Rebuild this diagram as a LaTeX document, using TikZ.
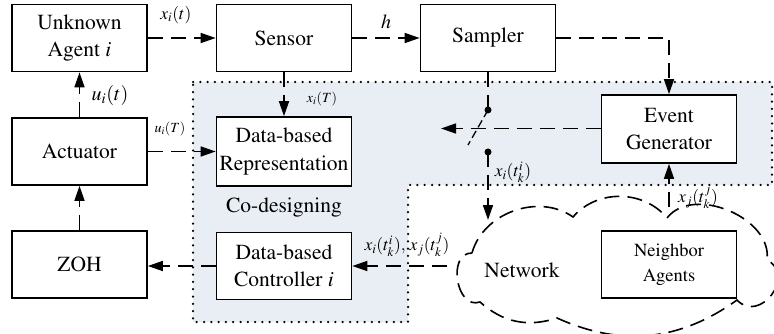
\documentclass[tikz,border=0pt]{standalone}
\usepackage[T1]{fontenc}
\usepackage{mathptmx}
\newcommand\tnr{\rmfamily}
\usetikzlibrary{arrows.meta}
\definecolor{codesign}{HTML}{E9EDF4}
\tikzset{
  blk/.style={draw, line width=1.7pt, fill=white, minimum width=135pt, minimum height=67pt, align=center, inner sep=2pt, font=\tnr\fontsize{21.5}{27.5}\selectfont},
  dasharrow/.style={line width=1.6pt, dash pattern=on 15pt off 8pt, -{Triangle[length=15pt,width=10pt]}},
  cloudline/.style={line width=1.6pt, dash pattern=on 15pt off 8pt},
  dotborder/.style={line width=2.5pt, line cap=round, dash pattern=on 0pt off 7.3pt},
  biglbl/.style={font=\tnr\fontsize{20}{22}\selectfont, inner sep=0pt},
  midlbl/.style={font=\tnr\fontsize{17.5}{20}\selectfont, inner sep=0pt},
  smalllbl/.style={font=\tnr\fontsize{14}{16}\selectfont, inner sep=0pt},
  plaintext/.style={font=\tnr\fontsize{21.5}{27.5}\selectfont, inner sep=0pt},
  contact/.style={circle, fill=black, inner sep=0pt, minimum size=7pt},
}
\begin{document}
\begin{tikzpicture}[x=1pt,y=-1pt]
\useasboundingbox (0,0) rectangle (774,334);
% shaded co-design region
\fill[codesign] (193,82) -- (772,82) -- (772,185) -- (408,185) -- (408,322) -- (193,322) -- cycle;
\draw[dotborder] (193,82) -- (772,82) -- (772,185) -- (408,185) -- (408,322) -- (193,322) -- cycle;
% cloud (network)
\coordinate (P1) at (472,253);
\coordinate (P2) at (573,217);
\coordinate (P3) at (667,218);
\coordinate (P4) at (767,260);
\coordinate (P5) at (737,300);
\coordinate (P6) at (557,318);
\coordinate (P7) at (480,302);
\draw[cloudline] (P1) to[bend left=55] (P2) to[bend left=50] (P3) to[bend left=75] (P4)
  to[bend left=100, looseness=1.7] (P5) to[bend left=30] (P6) to[bend left=30] (P7)
  to[bend left=100, looseness=1.3] (P1);
\coordinate (netw) at (447,266);
\coordinate (nettop) at (488,220);
\coordinate (nbtop) at (669,207);
\node[plaintext] (nettext) at (522,270) {Network};
% blocks
\node[blk] (agent) at (79.5,38) {Unknown\\Agent \textit{i}};
\node[blk] (sensor) at (284,38) {Sensor};
\node[blk] (sampler) at (488,38) {Sampler};
\node[blk] (actuator) at (79.5,151.5) {Actuator};
\node[blk] (zoh) at (79.5,264.5) {ZOH};
\node[blk, minimum height=69pt] (rep) at (284,151.5) {Data-based\\Representation};
\node[blk] (ctrl) at (284,266) {Data-based\\Controller \textit{i}};
\node[blk, minimum height=68pt] (event) at (669,129) {Event\\Generator};
\node[blk, font=\tnr\fontsize{18.5}{25}\selectfont] (neigh) at (669,264.5) {Neighbor\\Agents};
\node[plaintext] (codes) at (284,208) {Co-designing};
% switch
\coordinate (sw1) at (488,110);
\coordinate (sw2) at (488,152);
\coordinate (swb) at (468,145);
\coordinate (swl) at (441,128.5);
\draw[line width=1.6pt, dash pattern=on 15pt off 8pt] (sampler.south) -- (sw1);
\draw[line width=1.3pt, dash pattern=on 8pt off 4pt] (sw1) -- (swb);
\node[contact] at (sw1) {};
\node[contact] at (sw2) {};
% connectors
\draw[dasharrow] (agent.east) -- (sensor.west);
\draw[dasharrow] (sensor.east) -- (sampler.west);
\draw[dasharrow] (sampler.east) -| (event.north);
\draw[dasharrow] (sensor.south) -- (rep.north);
\draw[dasharrow] (actuator.north) -- (agent.south);
\draw[dasharrow] (actuator.east) -- (rep.west);
\draw[dasharrow] (zoh.north) -- (actuator.south);
\draw[dasharrow] (ctrl.west) -- (zoh.east |- ctrl.west);
\draw[dasharrow] (netw) -- (ctrl.east);
\draw[dasharrow] (event.west |- swl) -- (swl);
\draw[dasharrow] (sw2) -- (nettop);
\draw[dasharrow] (nbtop) -- (event.south);
% labels
\node[midlbl] at (176,15) {$x_i(t)$};
\node[biglbl] at (386,22) {$h$};
\node[smalllbl] at (322,99) {$x_i(T)$};
\node[biglbl] at (110,96) {$u_i(t)$};
\node[smalllbl] at (170,129) {$u_i(T)$};
\node[midlbl] at (513,172) {$x_i(t_k^i)$};
\node[midlbl] at (698,197) {$x_j(t_k^j)$};
\node[midlbl] at (407,245) {$x_i(t_k^i),\, x_j(t_k^j)$};
\end{tikzpicture}
\end{document}
